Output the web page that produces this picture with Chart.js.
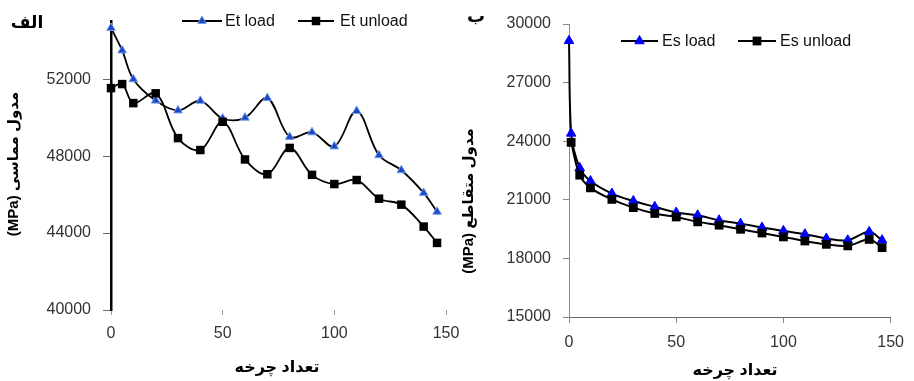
<!DOCTYPE html>
<html>
<head>
<meta charset="utf-8">
<script src="https://cdn.jsdelivr.net/npm/chart.js"></script>
<style>
  html, body { margin: 0; padding: 0; background: #fff; }
  body { width: 914px; height: 381px; position: relative; overflow: hidden; }
  canvas { position: absolute; top: 0; }
  #left { left: 0; }
  #right { left: 455px; }
</style>
</head>
<body>
<canvas id="left" width="475" height="381"></canvas>
<canvas id="right" width="459" height="381"></canvas>
<script>
// left chart (الف): tangent modulus
const etCycles = [0, 5, 10, 20, 30, 40, 50, 60, 70, 80, 90, 100, 110, 120, 130, 140, 146];
const etLoad = [54670, 53500, 52000, 50890, 50380, 50880, 49960, 50000, 51020, 49000, 49240, 48510, 50350, 48050, 47270, 46090, 45110];
const etUnload = [51540, 51750, 50760, 51270, 48940, 48320, 49790, 47830, 47060, 48430, 47030, 46550, 46760, 45790, 45480, 44340, 43490];
const etTicks = [40000, 44000, 48000, 52000];

// right chart (ب): secant modulus
const esLoadCycles = [0, 1, 5, 10, 20, 30, 40, 50, 60, 70, 80, 90, 100, 110, 120, 130, 140, 146];
const esLoad = [29140, 24400, 22630, 21960, 21320, 20940, 20640, 20350, 20210, 19950, 19780, 19580, 19410, 19240, 19020, 18930, 19360, 18930];
const esUnloadCycles = [1, 5, 10, 20, 30, 40, 50, 60, 70, 80, 90, 100, 110, 120, 130, 140, 146];
const esUnload = [23940, 22260, 21610, 21020, 20600, 20300, 20120, 19870, 19700, 19490, 19300, 19100, 18890, 18720, 18640, 18970, 18550];
const esTicks = [15000, 18000, 21000, 24000, 27000, 30000];

const cycleTicks = [0, 50, 100, 150];

const faFont = '"Liberation Sans", "DejaVu Sans"';
Chart.defaults.font.family = '"Liberation Sans", Arial, sans-serif';
Chart.defaults.font.size = 16;
Chart.defaults.color = '#333';

function pts(xs, ys) {
  return xs.map((x, i) => ({ x: x, y: ys[i] }));
}

function useTicks(list) {
  return scale => { scale.ticks = list.map(v => ({ value: v })); };
}

function drawMarker(ctx, ds, x, y) {
  const r = ds.pointRadius;
  ctx.save();
  ctx.fillStyle = ds.pointBackgroundColor;
  ctx.strokeStyle = ds.pointBorderColor;
  ctx.lineWidth = ds.pointBorderWidth;
  ctx.beginPath();
  if (ds.pointStyle === 'triangle') {
    ctx.moveTo(x, y - r);
    ctx.lineTo(x + r * 0.866, y + r / 2);
    ctx.lineTo(x - r * 0.866, y + r / 2);
    ctx.closePath();
  } else {
    const s = r / Math.SQRT2;
    ctx.rect(x - s, y - s, 2 * s, 2 * s);
  }
  ctx.fill();
  if (ds.pointBorderWidth) ctx.stroke();
  ctx.restore();
}

// free text (titles, panel letters) and the in-plot legend
function makeNotes(cfg) {
  return {
    id: 'notes',
    afterDraw(chart) {
      const ctx = chart.ctx;
      cfg.texts.forEach(t => {
        ctx.save();
        ctx.font = t.font;
        ctx.fillStyle = '#000';
        ctx.direction = 'rtl';
        ctx.textAlign = 'center';
        ctx.textBaseline = 'middle';
        ctx.translate(t.x, t.y);
        if (t.rotate) ctx.rotate(-Math.PI / 2);
        ctx.fillText(t.text, 0, 0);
        ctx.restore();
      });
      ctx.save();
      ctx.beginPath();
      ctx.rect(0, cfg.clipTop, chart.width, chart.height);
      ctx.clip();
      cfg.legend.forEach(item => {
        const ds = chart.data.datasets[item.ds];
        ctx.strokeStyle = ds.borderColor;
        ctx.lineWidth = ds.borderWidth;
        ctx.beginPath();
        ctx.moveTo(item.x1, item.y);
        ctx.lineTo(item.x2, item.y);
        ctx.stroke();
        drawMarker(ctx, ds, (item.x1 + item.x2) / 2, item.y);
        ctx.font = '16px "Liberation Sans", Arial';
        ctx.fillStyle = '#111';
        ctx.textAlign = 'left';
        ctx.textBaseline = 'middle';
        ctx.fillText(ds.label, item.tx, item.y + 1);
      });
      ctx.restore();
    }
  };
}

new Chart(document.getElementById('left'), {
  type: 'line',
  data: {
    datasets: [
      {
        label: 'Et load',
        data: pts(etCycles, etLoad),
        borderColor: '#000',
        borderWidth: 1.8,
        tension: 0.35,
        pointStyle: 'triangle',
        pointRadius: 5,
        pointBackgroundColor: '#1f46c8',
        pointBorderColor: '#72a0e8',
        pointBorderWidth: 1,
        clip: false,
        order: 1
      },
      {
        label: 'Et unload',
        data: pts(etCycles, etUnload),
        borderColor: '#000',
        borderWidth: 1.8,
        tension: 0.35,
        pointStyle: 'rect',
        pointRadius: 6,
        pointBackgroundColor: '#000',
        pointBorderColor: '#000',
        pointBorderWidth: 0,
        clip: false,
        order: 0
      }
    ]
  },
  options: {
    responsive: false,
    animation: false,
    layout: { padding: { left: 0, top: 16, right: 29, bottom: 0 } },
    plugins: { legend: { display: false }, tooltip: { enabled: false } },
    scales: {
      x: {
        type: 'linear',
        min: 0,
        max: 150,
        afterBuildTicks: useTicks(cycleTicks),
        afterFit: s => { s.height = 71; },
        ticks: { padding: 9, callback: v => String(v) },
        grid: { drawOnChartArea: false, tickLength: 5, color: '#999' },
        border: { display: false }
      },
      y: {
        type: 'linear',
        min: 40000,
        max: 55000,
        afterBuildTicks: useTicks(etTicks),
        afterFit: s => { s.width = 111; },
        ticks: { padding: 12, callback: v => String(v) },
        grid: { drawOnChartArea: false, tickLength: 8, color: '#666' },
        border: { color: '#000', width: 2.5 }
      }
    }
  },
  plugins: [makeNotes({
    texts: [
      { text: 'الف', x: 27, y: 23, font: 'bold 17px ' + faFont },
      { text: 'مدول مماسی (MPa)', x: 14, y: 164, rotate: true, font: 'bold 15px ' + faFont },
      { text: 'تعداد چرخه', x: 277, y: 368, font: 'bold 16px ' + faFont }
    ],
    clipTop: 14,
    legend: [
      { ds: 0, x1: 182, x2: 222, tx: 225, y: 21 },
      { ds: 1, x1: 298, x2: 334, tx: 340, y: 21 }
    ]
  })]
});

new Chart(document.getElementById('right'), {
  type: 'line',
  data: {
    datasets: [
      {
        label: 'Es load',
        data: pts(esLoadCycles, esLoad),
        borderColor: '#000',
        borderWidth: 2,
        tension: 0.35,
        pointStyle: 'triangle',
        pointRadius: 5.5,
        pointBackgroundColor: '#0000ff',
        pointBorderColor: '#0000ff',
        pointBorderWidth: 1,
        clip: false,
        order: 1
      },
      {
        label: 'Es unload',
        data: pts(esUnloadCycles, esUnload),
        borderColor: '#000',
        borderWidth: 2,
        tension: 0.35,
        pointStyle: 'rect',
        pointRadius: 6.2,
        pointBackgroundColor: '#000',
        pointBorderColor: '#000',
        pointBorderWidth: 0,
        clip: false,
        order: 0
      }
    ]
  },
  options: {
    responsive: false,
    animation: false,
    layout: { padding: { left: 0, top: 24, right: 16, bottom: 0 } },
    plugins: { legend: { display: false }, tooltip: { enabled: false } },
    scales: {
      x: {
        type: 'linear',
        min: 0,
        max: 150,
        afterBuildTicks: useTicks(cycleTicks),
        afterFit: s => { s.height = 64; },
        ticks: { padding: 10, callback: v => String(v) },
        grid: { drawOnChartArea: false, tickLength: 6, color: '#888' },
        border: { color: '#666', width: 1 }
      },
      y: {
        type: 'linear',
        min: 15000,
        max: 30000,
        afterBuildTicks: useTicks(esTicks),
        afterFit: s => { s.width = 114; },
        ticks: { padding: 12, callback: v => String(v) },
        grid: { drawOnChartArea: false, tickLength: 6, color: '#888' },
        border: { color: '#888', width: 1 }
      }
    }
  },
  plugins: [makeNotes({
    texts: [
      { text: 'ب', x: 21, y: 17, font: 'bold 18px ' + faFont },
      { text: 'مدول متقاطع (MPa)', x: 14, y: 201, rotate: true, font: 'bold 15px ' + faFont },
      { text: 'تعداد چرخه', x: 280, y: 371, font: 'bold 16px ' + faFont }
    ],
    clipTop: 0,
    legend: [
      { ds: 0, x1: 166, x2: 203, tx: 207, y: 41 },
      { ds: 1, x1: 283, x2: 321, tx: 325, y: 41 }
    ]
  })]
});
</script>
</body>
</html>
